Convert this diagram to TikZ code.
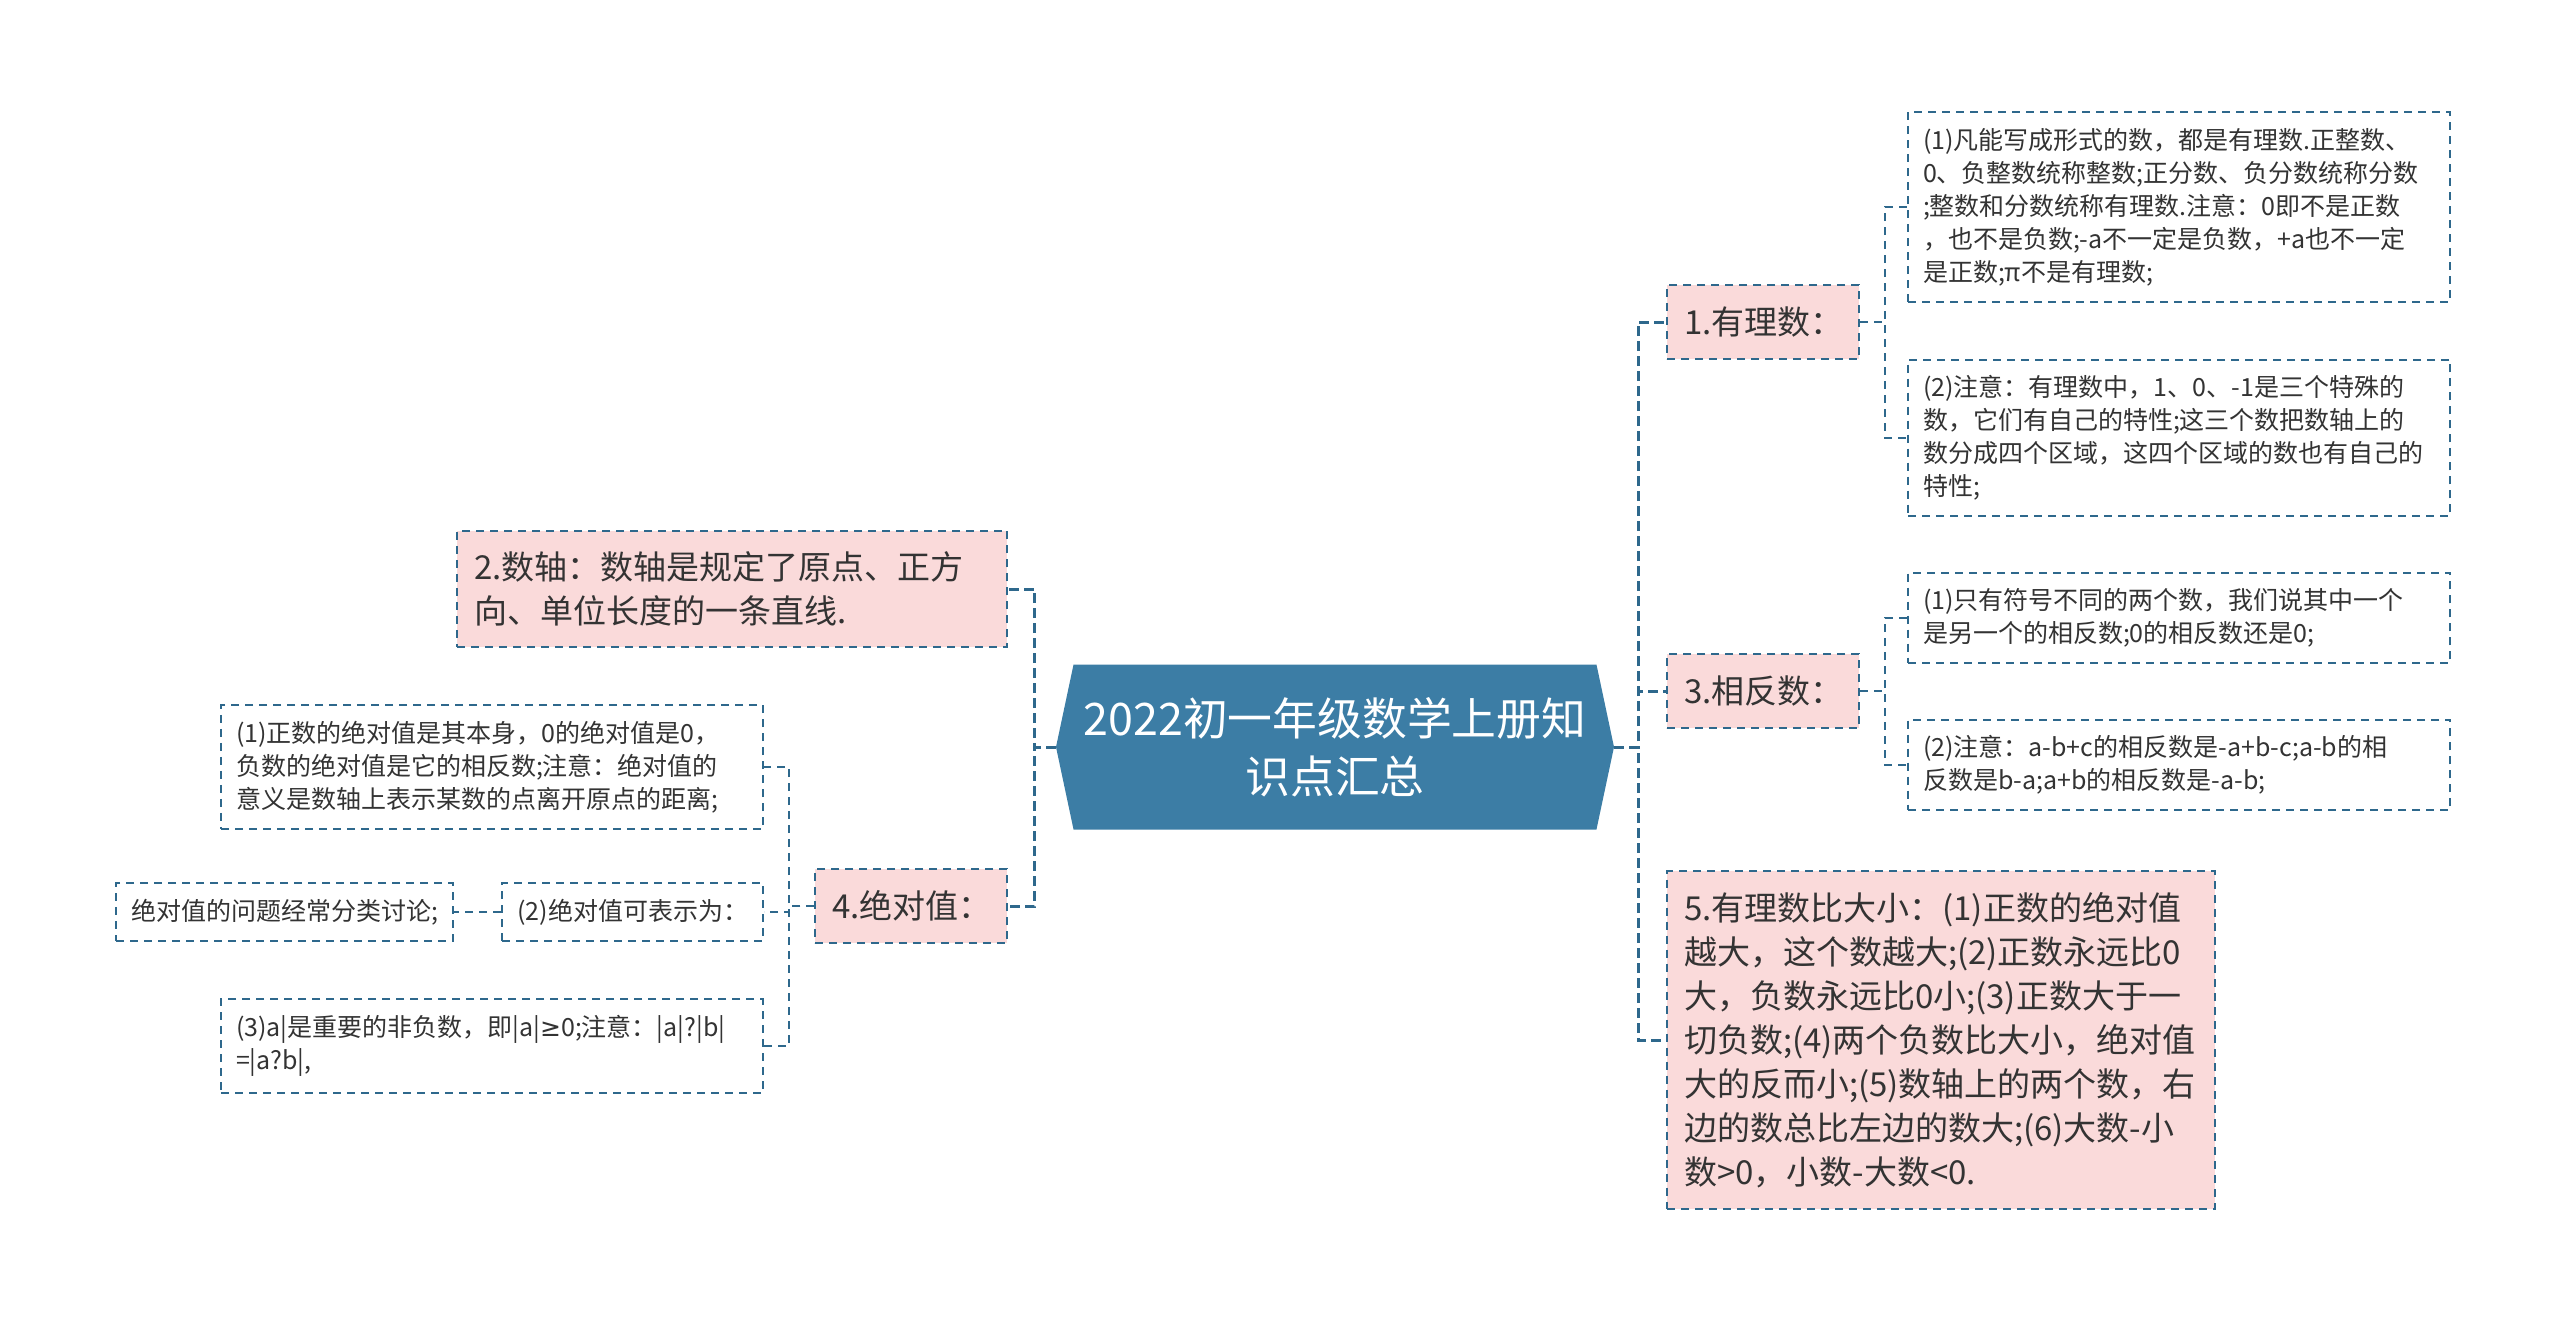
\documentclass[tikz,border=0pt]{standalone}
\usepackage{fontspec}
\setmainfont{Noto Sans CJK SC}
\newfontfamily\symfont{DejaVu Sans}
\usetikzlibrary{positioning,shapes.symbols}

\definecolor{linkblue}{HTML}{2E688C}
\definecolor{rootblue}{HTML}{3C7DA5}
\definecolor{notepink}{HTML}{FADADA}
\definecolor{txtgray}{HTML}{333333}

\tikzset{
	root/.style={shape=signal, signal to=east and west, signal pointer angle=156, fill=rootblue, text=white, align=center, minimum width=279pt, minimum height=82.5pt, inner sep=0pt, font=\fontsize{22.4pt}{29pt}\selectfont},
	topic/.style={draw=linkblue, line width=1pt, dash pattern=on 4pt off 3pt, fill=notepink, text=txtgray, align=left, inner xsep=8.5pt, inner ysep=10.5pt, minimum height=37pt, font=\fontsize{16.5pt}{22pt}\selectfont},
	note/.style={draw=linkblue, line width=1pt, dash pattern=on 4pt off 3pt, fill=white, text=txtgray, align=left, inner xsep=7.5pt, inner ysep=8pt, font=\fontsize{12.5pt}{16.5pt}\selectfont},
	mainlink/.style={draw=linkblue, line width=1.5pt, dash pattern=on 5pt off 2.5pt},
	link/.style={draw=linkblue, line width=1pt, dash pattern=on 4pt off 3pt},
}

\begin{document}
\begin{tikzpicture}[x=0.5pt, y=-0.5pt]
	\useasboundingbox (0,0) rectangle (2560,1322);

	\node[root] (root) at (1335,747) {2022初一年级数学上册知\\识点汇总};

	% right side
	\node[topic, anchor=west, text width=79pt] (n1) at (1666,322) {1.有理数：};
	\node[topic, anchor=west, text width=79pt] (n3) at (1666,691) {3.相反数：};
	\node[topic, anchor=west, text width=257pt] (n5) at (1666,1040) {
		5.有理数比大小：(1)正数的绝对值\\
		越大，这个数越大;(2)正数永远比0\\
		大，负数永远比0小;(3)正数大于一\\
		切负数;(4)两个负数比大小，绝对值\\
		大的反而小;(5)数轴上的两个数，右\\
		边的数总比左边的数大;(6)大数-小\\
		数>0，小数-大数<0.
	};

	\node[note, anchor=west, text width=256pt] (l11) at (1907,207) {
		(1)凡能写成形式的数，都是有理数.正整数、\\
		0、负整数统称整数;正分数、负分数统称分数\\
		;整数和分数统称有理数.注意：0即不是正数\\
		，也不是负数;-a不一定是负数，+a也不一定\\
		是正数;π不是有理数;
	};
	\node[note, anchor=west, text width=256pt] (l12) at (1907,438) {
		(2)注意：有理数中，1、0、-1是三个特殊的\\
		数，它们有自己的特性;这三个数把数轴上的\\
		数分成四个区域，这四个区域的数也有自己的\\
		特性;
	};
	\node[note, anchor=west, text width=256pt] (l31) at (1907,618) {
		(1)只有符号不同的两个数，我们说其中一个\\
		是另一个的相反数;0的相反数还是0;
	};
	\node[note, anchor=west, text width=256pt] (l32) at (1907,765) {
		(2)注意：a-b+c的相反数是-a+b-c;a-b的相\\
		反数是b-a;a+b的相反数是-a-b;
	};

	% left side
	\node[topic, anchor=east, text width=258pt] (n2) at (1008,589) {
		2.数轴：数轴是规定了原点、正方\\
		向、单位长度的一条直线.
	};
	\node[topic, anchor=east, text width=79pt] (n4) at (1008,906) {4.绝对值：};

	\node[note, anchor=east, text width=256pt] (l41) at (764,767) {
		(1)正数的绝对值是其本身，0的绝对值是0，\\
		负数的绝对值是它的相反数;注意：绝对值的\\
		意义是数轴上表示某数的点离开原点的距离;
	};
	\node[note, anchor=east] (l42) at (764,912) {(2)绝对值可表示为：};
	\node[note, left=23.5pt of l42] (l421) {绝对值的问题经常分类讨论;};
	\node[note, anchor=east, text width=256pt] (l43) at (764,1046) {
		(3)a|是重要的非负数，即|a|{\symfont ≥}0;注意：|a|?|b|\\
		=|a?b|,
	};

	\draw[mainlink] (root.east) -- ++(24,0) |- (n1.west);
	\draw[mainlink] (root.east) -- ++(24,0) |- (n3.west);
	\draw[mainlink] (root.east) -- ++(24,0) |- (n5.west);
	\draw[mainlink] (root.west) -- ++(-21,0) |- (n2.east);
	\draw[mainlink] (root.west) -- ++(-21,0) |- (n4.east);

	\draw[link] (n1.east) -- ++(25,0) |- (l11.west);
	\draw[link] (n1.east) -- ++(25,0) |- (l12.west);
	\draw[link] (n3.east) -- ++(25,0) |- (l31.west);
	\draw[link] (n3.east) -- ++(25,0) |- (l32.west);
	\draw[link] (n4.west) -- ++(-25,0) |- (l41.east);
	\draw[link] (n4.west) -- ++(-25,0) |- (l42.east);
	\draw[link] (n4.west) -- ++(-25,0) |- (l43.east);
	\draw[link] (l42.west) -- (l421.east);
\end{tikzpicture}
\end{document}
